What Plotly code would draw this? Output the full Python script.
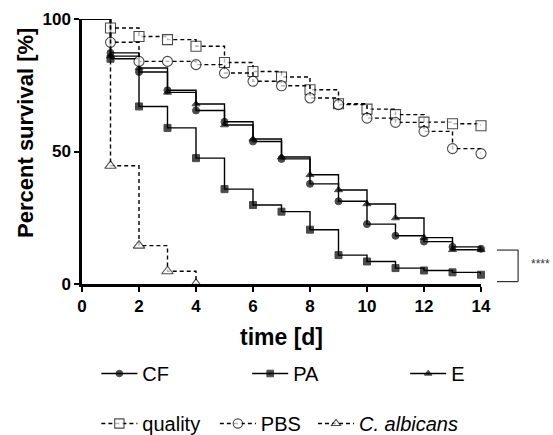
import plotly.graph_objects as go

days = list(range(0, 15))

cf = [100, 87.2, 80.0, 73.1, 65.5, 61.2, 53.8, 47.2, 37.8, 31.2, 22.6, 18.2, 16.0, 14.0, 13.3]
pa = [100, 85.0, 67.0, 58.9, 47.5, 35.8, 29.8, 27.3, 20.5, 10.9, 8.5, 6.0, 5.1, 4.4, 3.5]
e = [100, 86.0, 81.5, 72.3, 67.9, 60.0, 54.7, 47.9, 41.2, 35.5, 30.2, 24.9, 17.5, 12.9, 12.9]
quality = [100, 96.6, 93.4, 92.2, 89.7, 83.6, 80.2, 78.1, 73.3, 68.0, 66.0, 63.9, 61.1, 60.5, 59.7]
pbs = [100, 91.2, 84.0, 84.0, 82.8, 79.6, 76.5, 74.8, 70.2, 67.7, 62.6, 61.0, 57.6, 51.1, 49.2]
calb_days = [0, 1, 2, 3, 4]
calb = [100, 44.6, 14.5, 4.8, 0]

FONT = "Liberation Sans, Arial, sans-serif"
DASH = "4px,3px"

fig = go.Figure()

def add(name, x, y, symbol, size, filled, dash, legend):
    sizes = [0] + [size] * (len(x) - 1)
    fig.add_trace(go.Scatter(
        x=x, y=y, name=name, mode="lines+markers",
        line=dict(shape="hv", color="black", width=1.4, dash=dash),
        marker=dict(symbol=symbol, size=sizes,
                    color="black" if filled else "white",
                    line=dict(color="black", width=1 if filled else 1.1)),
        cliponaxis=False, legend=legend,
    ))

add("CF", days, cf, "circle", 7, True, "solid", "legend")
add("PA", days, pa, "square", 7, True, "solid", "legend2")
add("E", days, e, "triangle-up", 7, True, "solid", "legend3")
add("quality", days, quality, "square", 10, False, DASH, "legend4")
add("PBS", days, pbs, "circle", 10, False, DASH, "legend5")
add("<i>C. albicans</i>", calb_days, calb, "triangle-up", 10, False, DASH, "legend6")

# significance bracket (paper coords)
bx0, bx1 = 1.040, 1.093
by0, by1 = 0.009, 0.128
for (x0, y0, x1, y1) in [(bx0, by1, bx1, by1), (bx1, by1, bx1, by0), (bx1, by0, bx0, by0)]:
    fig.add_shape(type="line", xref="paper", yref="paper", x0=x0, y0=y0, x1=x1, y1=y1,
                  line=dict(color="#333", width=1.2))
fig.add_annotation(text="****", xref="paper", yref="paper", x=1.12, y=0.075,
                   xanchor="left", yanchor="middle", showarrow=False,
                   font=dict(family=FONT, size=12, color="#333"))

# y-axis title (offset upward as in the reference)
fig.add_annotation(text="Percent survival [%]", xref="paper", yref="paper",
                   x=-0.1404, y=0.570, textangle=-90, showarrow=False,
                   xanchor="center", yanchor="middle",
                   font=dict(family=FONT, size=22, color="black", weight="bold"))

axis_common = dict(showline=True, linecolor="black", linewidth=2.5, ticks="outside",
                   ticklen=5, tickwidth=2, tickcolor="black", showgrid=False, zeroline=False,
                   automargin=False,
                   tickfont=dict(family=FONT, size=17, color="black", weight="bold"))

def leg(x, y):
    return dict(orientation="h", x=x, y=y, xanchor="left", yanchor="middle",
                xref="paper", yref="container",
                font=dict(family=FONT, size=20, color="black"),
                itemwidth=36, bgcolor="rgba(0,0,0,0)")

R1 = 1 - 373.5 / 435
R2 = 1 - 423.5 / 435

fig.update_layout(
    width=553, height=435,
    margin=dict(l=82, r=72, t=19, b=151),
    paper_bgcolor="white", plot_bgcolor="white",
    xaxis=dict(range=[0, 14], tickvals=[0, 2, 4, 6, 8, 10, 12, 14], ticklabelstandoff=0,
               title=dict(text="time [d]", font=dict(family=FONT, size=23, color="black", weight="bold"), standoff=14),
               **axis_common),
    yaxis=dict(range=[0, 100], tickvals=[0, 50, 100], **axis_common),
    legend=leg(0.036, R1),
    legend2=leg(0.414, R1),
    legend3=leg(0.810, R1),
    legend4=leg(0.036, R2),
    legend5=leg(0.333, R2),
    legend6=leg(0.579, R2),
    showlegend=True,
)

fig.write_html("out.html")
